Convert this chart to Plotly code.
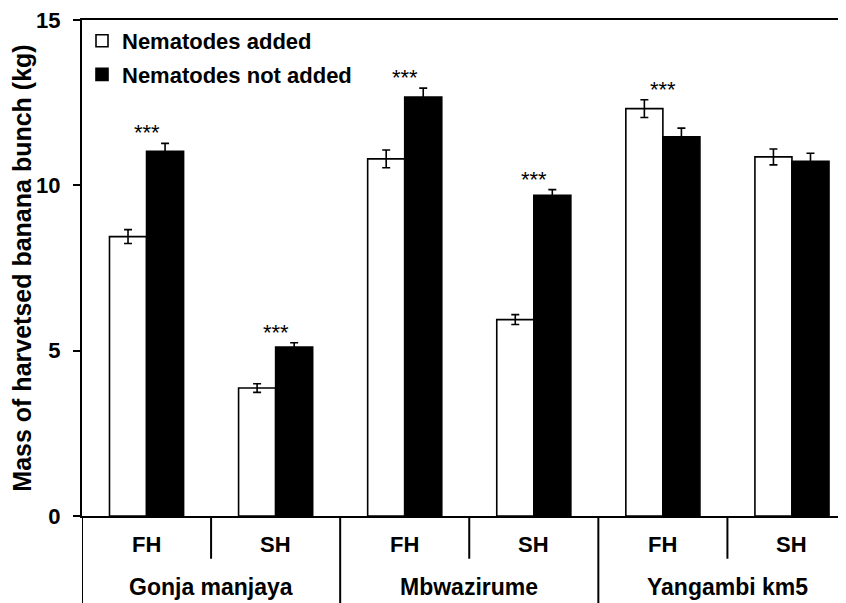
import plotly.graph_objects as go

cultivars = ["Gonja manjaya", "Mbwazirume", "Yangambi km5"]
harvests = ["FH", "SH", "FH", "SH", "FH", "SH"]
series_names = ["Nematodes added", "Nematodes not added"]
added = [8.45, 3.87, 10.80, 5.94, 12.32, 10.86]
added_err = [0.21, 0.13, 0.27, 0.15, 0.27, 0.24]
not_added = [11.03, 5.11, 12.67, 9.70, 11.47, 10.73]
not_added_err = [0.24, 0.13, 0.27, 0.17, 0.26, 0.24]
sig = ["***", "***", "***", "***", "***", ""]
y_ticks = [0, 5, 10, 15]

FONT = "Liberation Sans, Arial, sans-serif"
xs = list(range(len(harvests)))

fig = go.Figure()
fig.add_trace(go.Bar(
    x=xs, y=added, name=series_names[0],
    marker=dict(color="white", line=dict(color="black", width=1.6)),
    error_y=dict(type="data", array=added_err, color="black", thickness=1.6, width=4),
    legendgroup="a",
))
fig.add_trace(go.Bar(
    x=xs, y=not_added, name=series_names[1],
    marker=dict(color="black", line=dict(color="black", width=1.6)),
    error_y=dict(type="data", array=not_added_err, color="black", thickness=1.6, width=4),
    legendgroup="b",
))

# significance stars
for i, s in enumerate(sig):
    if s:
        top = max(added[i] + added_err[i], not_added[i] + not_added_err[i])
        fig.add_annotation(x=xs[i], y=top, text=s, showarrow=False,
                           yanchor="bottom", yshift=-4,
                           font=dict(family=FONT, size=22, color="black"))

# harvest labels
for i, h in enumerate(harvests):
    fig.add_annotation(x=xs[i], y=-0.058, yref="paper", text=h, showarrow=False,
                       yanchor="middle",
                       font=dict(family=FONT, size=22, color="black", weight="bold"))
# cultivar labels
for j, c in enumerate(cultivars):
    fig.add_annotation(x=2 * j + 0.5, y=-0.144, yref="paper", text=c, showarrow=False,
                       yanchor="middle",
                       font=dict(family=FONT, size=23, color="black", weight="bold"))

# divider lines under the axis
for k in range(len(harvests)):
    xpos = k - 0.5
    y1 = -0.0862 if k % 2 == 1 else -0.18
    fig.add_shape(type="line", xref="x", yref="paper", x0=xpos, x1=xpos, y0=0, y1=y1,
                  line=dict(color="black", width=2))

fig.update_layout(
    width=838, height=595,
    margin=dict(l=74, r=0, t=9, b=87),
    paper_bgcolor="white", plot_bgcolor="white",
    barmode="group", bargap=0.426, bargroupgap=0,
    showlegend=True,
    legend=dict(x=0.0, y=1.0, xanchor="left", yanchor="top",
                bgcolor="rgba(0,0,0,0)", traceorder="grouped", tracegroupgap=2,
                font=dict(family=FONT, size=22, color="black", weight="bold")),
    font=dict(family=FONT, color="black"),
    xaxis=dict(range=[-0.5, 5.5 - 10.5 / 129], showticklabels=False, ticks="",
               showline=True, linecolor="black", linewidth=2, mirror=True,
               showgrid=False, zeroline=False),
    yaxis=dict(range=[0, 15], tickvals=y_ticks, ticks="outside", ticklen=7, tickwidth=2,
               tickcolor="black", showline=True, linecolor="black", linewidth=2,
               showgrid=False, zeroline=False, ticklabelstandoff=8,
               ticklabeloverflow="allow",
               tickfont=dict(family=FONT, size=22, color="black", weight="bold"),
               title=dict(text="Mass of harvetsed banana bunch (kg)", standoff=0,
                          font=dict(family=FONT, size=25, color="black", weight="bold"))),
)

fig.write_html("out.html")
